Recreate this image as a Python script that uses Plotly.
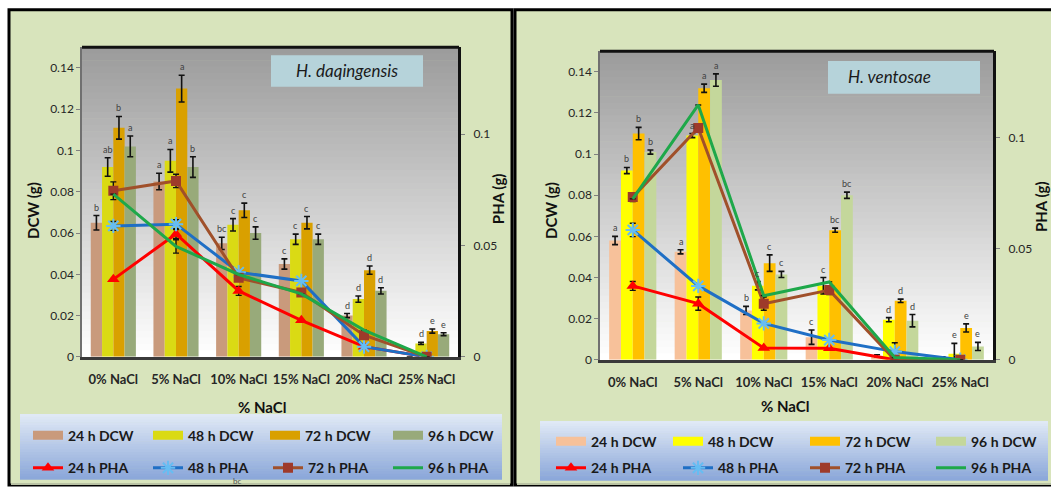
import plotly.graph_objects as go

# ---------------- DATA ----------------
categories = ["0% NaCl", "5% NaCl", "10% NaCl", "15% NaCl", "20% NaCl", "25% NaCl"]
hours = ["24 h", "48 h", "72 h", "96 h"]

# H. daqingensis (left panel)
dq_dcw_24 = [0.065, 0.085, 0.055, 0.045, 0.020, 0.0]
dq_dcw_48 = [0.092, 0.095, 0.064, 0.057, 0.028, 0.0065]
dq_dcw_72 = [0.111, 0.130, 0.071, 0.065, 0.042, 0.0125]
dq_dcw_96 = [0.102, 0.092, 0.060, 0.057, 0.032, 0.011]
dq_err_24 = [0.0035, 0.004, 0.003, 0.0025, 0.001, 0.0]
dq_err_48 = [0.0045, 0.0055, 0.003, 0.0025, 0.0015, 0.0005]
dq_err_72 = [0.0055, 0.0065, 0.0035, 0.003, 0.002, 0.001]
dq_err_96 = [0.005, 0.005, 0.003, 0.0025, 0.0015, 0.0007]
dq_pha_24 = [0.0348, 0.0552, 0.0296, 0.0164, 0.0046, 0.0]
dq_pha_48 = [0.0588, 0.0596, 0.0380, 0.0341, 0.0046, 0.0]
dq_pha_72 = [0.0746, 0.0790, 0.0355, 0.0289, 0.0097, 0.0]
dq_pha_96 = [0.0731, 0.0496, 0.0370, 0.0283, 0.0120, 0.0]
dq_pha_err_24 = [0.0, 0.002, 0.002, 0.0, 0.0, 0.0]
dq_pha_err_48 = [0.002, 0.002, 0.0, 0.0, 0.0, 0.0]
dq_pha_err_72 = [0.004, 0.003, 0.0, 0.0, 0.0, 0.0]
dq_pha_err_96 = [0.0, 0.003, 0.0, 0.0, 0.0, 0.0]
dq_letters_24 = ["b", "a", "bc", "c", "d", ""]
dq_letters_48 = ["ab", "a", "c", "c", "d", "d"]
dq_letters_72 = ["b", "a", "c", "c", "d", "e"]
dq_letters_96 = ["a", "b", "c", "c", "d", "e"]

# H. ventosae (right panel)
hv_dcw_24 = [0.058, 0.0525, 0.024, 0.011, 0.002, 0.001]
hv_dcw_48 = [0.092, 0.109, 0.036, 0.036, 0.0195, 0.003]
hv_dcw_72 = [0.110, 0.132, 0.047, 0.063, 0.0287, 0.0155]
hv_dcw_96 = [0.101, 0.136, 0.0415, 0.080, 0.019, 0.0065]
hv_err_24 = [0.002, 0.001, 0.002, 0.0035, 0.0005, 0.0005]
hv_err_48 = [0.0015, 0.001, 0.002, 0.004, 0.001, 0.005]
hv_err_72 = [0.003, 0.002, 0.004, 0.001, 0.0008, 0.002]
hv_err_96 = [0.001, 0.003, 0.0015, 0.0015, 0.003, 0.002]
hv_pha_24 = [0.0333, 0.0253, 0.0053, 0.0052, 0.0, 0.0]
hv_pha_48 = [0.0585, 0.0333, 0.0164, 0.0089, 0.0037, 0.0]
hv_pha_72 = [0.0733, 0.1044, 0.0253, 0.0314, 0.0, 0.0]
hv_pha_96 = [0.0725, 0.1148, 0.0289, 0.0351, 0.001, 0.0]
hv_pha_err_24 = [0.002, 0.003, 0.0, 0.0, 0.0, 0.0]
hv_pha_err_48 = [0.003, 0.0, 0.0, 0.0, 0.004, 0.0]
hv_pha_err_72 = [0.002, 0.0, 0.003, 0.002, 0.0, 0.0]
hv_pha_err_96 = [0.0, 0.0, 0.0, 0.0, 0.0, 0.0]
hv_letters_24 = ["a", "a", "b", "c", "", ""]
hv_letters_48 = ["b", "a", "c", "c", "d", "e"]
hv_letters_72 = ["b", "a", "c", "bc", "d", "e"]
hv_letters_96 = ["b", "a", "c", "bc", "d", "e"]

dcw_ticks = [0, 0.02, 0.04, 0.06, 0.08, 0.1, 0.12, 0.14]
dcw_ticktext = ["0", "0.02", "0.04", "0.06", "0.08", "0.1", "0.12", "0.14"]
pha_ticks = [0, 0.05, 0.1]
pha_ticktext = ["0", "0.05", "0.1"]

# ---------------- STYLE ----------------
W, H = 1051, 494
def px(x): return x / W
def py(y): return 1 - y / H

FONT = "Lato"
BARGAP = 0.28
dq_bar_colors = ["#c99a7c", "#dada14", "#d9a000", "#98aa7a"]
hv_bar_colors = ["#f7c19a", "#ffff00", "#ffc000", "#c4d79b"]
line_colors = ["#ff0000", "#1f6fc5", "#a0502a", "#1ea84a"]
line_modes = ["lines+markers", "lines+markers", "lines+markers", "lines"]
markers = [
    dict(symbol="triangle-up", size=11, color="#ff0000"),
    dict(symbol="asterisk-open", size=12, color="#66bdf2", line=dict(width=2, color="#66bdf2")),
    dict(symbol="square", size=10, color="#9e3a2a"),
    dict(size=6, color="#1ea84a"),
]

# legend text anchor positions (px) per panel: rows (DCW, PHA)
legend_pos = [
    dict(dcw_x=[68, 188, 305, 428], dcw_y=442, pha_x=[68, 188, 308, 428], pha_y=475),
    dict(dcw_x=[591, 708, 845, 971], dcw_y=448, pha_x=[591, 718, 845, 971], pha_y=475),
]

fig = go.Figure()

panels = [
    dict(xa="x", ya="y", ya2="y2",
         dcw=[dq_dcw_24, dq_dcw_48, dq_dcw_72, dq_dcw_96],
         err=[dq_err_24, dq_err_48, dq_err_72, dq_err_96],
         pha=[dq_pha_24, dq_pha_48, dq_pha_72, dq_pha_96],
         pha_err=[dq_pha_err_24, dq_pha_err_48, dq_pha_err_72, dq_pha_err_96],
         letters=[dq_letters_24, dq_letters_48, dq_letters_72, dq_letters_96],
         colors=dq_bar_colors),
    dict(xa="x3", ya="y3", ya2="y4",
         dcw=[hv_dcw_24, hv_dcw_48, hv_dcw_72, hv_dcw_96],
         err=[hv_err_24, hv_err_48, hv_err_72, hv_err_96],
         pha=[hv_pha_24, hv_pha_48, hv_pha_72, hv_pha_96],
         pha_err=[hv_pha_err_24, hv_pha_err_48, hv_pha_err_72, hv_pha_err_96],
         letters=[hv_letters_24, hv_letters_48, hv_letters_72, hv_letters_96],
         colors=hv_bar_colors),
]

legfont = dict(family=FONT, size=14, color="#1a1a1a", weight="bold")
legends = {}
leg_count = [0]
def new_legend(text_x, y):
    leg_count[0] += 1
    key = "legend" if leg_count[0] == 1 else f"legend{leg_count[0]}"
    legends[key] = dict(x=px(text_x - 40), y=py(y), xanchor="left", yanchor="middle",
                        orientation="h", bgcolor="rgba(0,0,0,0)", font=legfont,
                        itemwidth=30, borderwidth=0)
    return key

annotations = []
bw = (1 - BARGAP) / 4
for pi, p in enumerate(panels):
    lp = legend_pos[pi]
    for i, h in enumerate(hours):
        fig.add_trace(go.Bar(
            x=categories, y=p["dcw"][i], name=h + " DCW", showlegend=False,
            marker=dict(color=p["colors"][i], line=dict(width=0)),
            error_y=dict(type="data", array=p["err"][i], color="#111111", thickness=1.6, width=3),
            xaxis=p["xa"], yaxis=p["ya"]))
        # legend swatch (wide colour strip like the original)
        fig.add_trace(go.Scatter(
            x=[None], y=[None], mode="lines", name=h + " DCW",
            line=dict(color=p["colors"][i], width=9),
            xaxis=p["xa"], yaxis=p["ya"], legend=new_legend(lp["dcw_x"][i], lp["dcw_y"])))
        for c, (v, e, t) in enumerate(zip(p["dcw"][i], p["err"][i], p["letters"][i])):
            if t:
                annotations.append(dict(x=c + (i - 1.5) * bw, y=v + e, xref=p["xa"], yref=p["ya"],
                                        text=t, showarrow=False, xanchor="center", yanchor="bottom",
                                        yshift=1, font=dict(family=FONT, size=9, color="#404040")))
    for i, h in enumerate(hours):
        fig.add_trace(go.Scatter(
            x=categories, y=p["pha"][i], name=h + " PHA", mode=line_modes[i],
            line=dict(color=line_colors[i], width=3), marker=markers[i],
            error_y=dict(type="data", array=p["pha_err"][i], color="#111111", thickness=1.4, width=3),
            xaxis=p["xa"], yaxis=p["ya2"], legend=new_legend(lp["pha_x"][i], lp["pha_y"])))

tickfont = dict(family=FONT, size=12, color="#262626")
xtickfont = dict(family=FONT, size=13, color="#262626", weight="bold")

def xaxis(x0, x1, anchor):
    return dict(domain=[px(x0), px(x1)], anchor=anchor, type="category",
                categoryorder="array", categoryarray=categories, showgrid=False,
                ticks="", ticklabelstandoff=9, tickfont=xtickfont,
                showline=True, linecolor="#3a3a3a", linewidth=3, zeroline=False)

def yaxis_left(y0, y1, anchor):
    return dict(domain=[py(y1), py(y0)], anchor=anchor, range=[0, 0.15],
                tickvals=dcw_ticks, ticktext=dcw_ticktext, tickfont=tickfont,
                showgrid=False, zeroline=False, ticks="outside", ticklen=4,
                tickcolor="#808080", showline=True, linecolor="#707070", linewidth=1.5)

def yaxis_right(over, anchor):
    return dict(overlaying=over, anchor=anchor, side="right", range=[0, 0.139],
                tickvals=pha_ticks, ticktext=pha_ticktext, tickfont=tickfont,
                showgrid=False, zeroline=False, ticks="outside", ticklen=4,
                tickcolor="#808080", showline=True, linecolor="#111111", linewidth=3,
                ticklabelstandoff=6)

# plot-area rectangles (px)
L = dict(x0=82, x1=458, y0=48, y1=362)
R = dict(x0=600, x1=993, y0=52, y1=365)

shapes = []
for (a, b) in [(9, 512), (515, 1062)]:
    shapes.append(dict(type="rect", xref="paper", yref="paper", x0=px(a), x1=px(b),
                       y0=py(492), y1=py(10), fillcolor="#d8e4bc",
                       line=dict(color="black", width=3), layer="below"))
    shapes.append(dict(type="line", xref="paper", yref="paper", x0=px(a + 2), x1=px(b - 2),
                       y0=py(491), y1=py(491), line=dict(color="#b9c2a4", width=2), layer="below"))

N = 48
for A in (L, R):
    for k in range(N):
        t = k / (N - 1)
        g = int(156 + (255 - 156) * t)
        ya = A["y0"] + (A["y1"] - A["y0"]) * k / N
        yb = A["y0"] + (A["y1"] - A["y0"]) * (k + 1) / N
        shapes.append(dict(type="rect", xref="paper", yref="paper", x0=px(A["x0"]), x1=px(A["x1"]),
                           y0=py(yb + 0.6), y1=py(ya), fillcolor=f"rgb({g},{g},{g})",
                           line=dict(width=0), layer="below"))

for (a, b, top, bot) in [(20, 502, 420, 486), (540, 1048, 427, 487)]:
    M = 24
    for k in range(M):
        t = k / (M - 1)
        r = int(224 + (140 - 224) * t)
        gg = int(233 + (168 - 233) * t)
        bl = int(246 + (218 - 246) * t)
        ya = top + (bot - top) * k / M
        yb = top + (bot - top) * (k + 1) / M
        shapes.append(dict(type="rect", xref="paper", yref="paper", x0=px(a), x1=px(b),
                           y0=py(yb + 0.6), y1=py(ya), fillcolor=f"rgb({r},{gg},{bl})",
                           line=dict(width=0), layer="below"))

shapes.append(dict(type="rect", xref="paper", yref="paper", x0=px(271), x1=px(423),
                   y0=py(88), y1=py(56), fillcolor="#b6d3da", line=dict(width=0), layer="below"))
shapes.append(dict(type="rect", xref="paper", yref="paper", x0=px(828), x1=px(980),
                   y0=py(95), y1=py(62), fillcolor="#b6d3da", line=dict(width=0), layer="below"))

for A in (L, R):
    shapes.append(dict(type="line", xref="paper", yref="paper", x0=px(A["x0"]), x1=px(A["x1"] + 1),
                       y0=py(A["y0"]), y1=py(A["y0"]), line=dict(color="#111111", width=3), layer="above"))

axfont = dict(family=FONT, size=15, color="#111111", weight="bold")
def pann(x, y, text, font, angle=0):
    return dict(x=px(x), y=py(y), xref="paper", yref="paper", text=text, showarrow=False,
                xanchor="center", yanchor="middle", textangle=angle, font=font)

annotations += [
    pann(347, 72, "<i>H. daqingensis</i>", dict(family=FONT, size=17, color="#1a1a1a")),
    pann(889, 78, "<i>H. ventosae</i>", dict(family=FONT, size=17, color="#1a1a1a")),
    pann(33, 214, "DCW (g)", axfont, -90),
    pann(498, 202, "PHA (g)", axfont, -90),
    pann(551, 214, "DCW (g)", axfont, -90),
    pann(1041, 210, "PHA (g)", axfont, -90),
    pann(262, 413, "% NaCl", axfont),
    pann(785, 412, "% NaCl", axfont),
    pann(237, 488, "bc", dict(family=FONT, size=8, color="#505050")),
]

fig.update_layout(
    width=W, height=H, margin=dict(l=0, r=0, t=0, b=0),
    paper_bgcolor="white", plot_bgcolor="rgba(0,0,0,0)",
    barmode="group", bargap=BARGAP, bargroupgap=0,
    xaxis=xaxis(L["x0"], L["x1"], "y"),
    yaxis=yaxis_left(L["y0"], L["y1"], "x"),
    yaxis2=yaxis_right("y", "x"),
    xaxis3=xaxis(R["x0"], R["x1"], "y3"),
    yaxis3=yaxis_left(R["y0"], R["y1"], "x3"),
    yaxis4=yaxis_right("y3", "x3"),
    shapes=shapes, annotations=annotations,
    font=dict(family=FONT),
    **legends,
)

fig.write_html("out.html", config={"displayModeBar": False},
               post_script="document.body.style.margin='0px';document.body.style.overflow='hidden';")
